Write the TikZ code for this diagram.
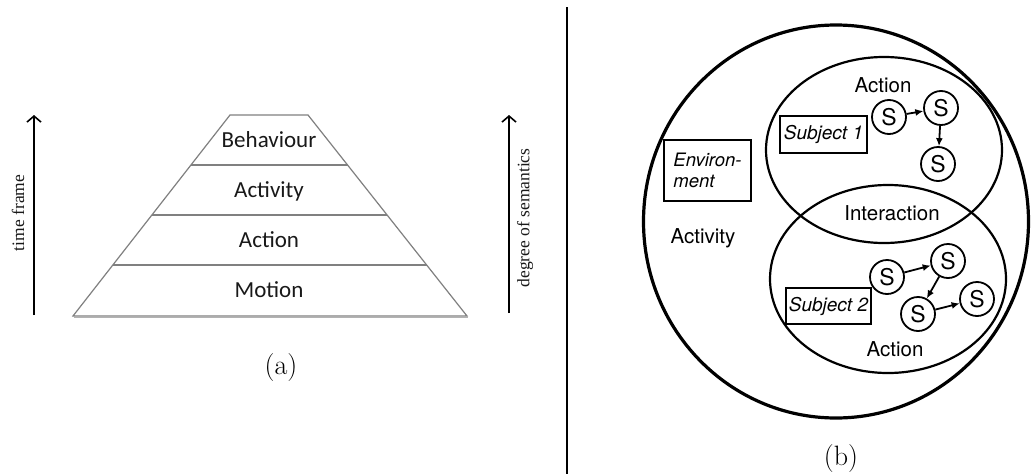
\documentclass[tikz,border=0pt]{standalone}
\usepackage{fontspec}
\newfontfamily\calfont{Carlito}
\newfontfamily\helvfont{TeX Gyre Heros}
\newfontfamily\timesfont{Liberation Serif}
\usetikzlibrary{arrows.meta}
\begin{document}
\begin{tikzpicture}[x=1pt,y=-1pt,
  pyr/.style={draw=black!50, line width=1.2pt},
  lvl/.style={font=\calfont\fontsize{23}{26}\selectfont, text=black!90, anchor=base, inner sep=0pt},
  axisarrow/.style={line width=1.6pt, -{Straight Barb[length=6pt,width=14pt,line width=1.6pt]}},
  axlbl/.style={font=\timesfont\fontsize{17.5}{20}\selectfont, text=black!90, rotate=90, inner sep=0pt},
  captxt/.style={font=\fontsize{28}{34}\selectfont, inner sep=0pt},
  outerring/.style={line width=3.2pt},
  ellring/.style={line width=2.2pt},
  lbl/.style={font=\helvfont\fontsize{20.5}{24}\selectfont, anchor=base, inner sep=0pt},
  subj/.style={draw, line width=1.8pt, font=\helvfont\itshape\fontsize{19}{22}\selectfont, inner sep=0pt},
  snode/.style={circle, draw, line width=1.8pt, minimum size=34pt, inner sep=0pt, font=\helvfont\fontsize{23}{26}\selectfont},
  sarr/.style={line width=1.8pt, -{Latex[length=8pt,width=7pt]}}
]
\useasboundingbox (0,0) rectangle (1031,474);
\fill[white] (0,0) rectangle (1031,474);

% ---------- (a) pyramid ----------
\draw[black!30, line width=1.6pt] (74,317.6) -- (468,317.6);
\draw[pyr, fill=white] (73,316) -- (467,316) -- (308,115) -- (230,115) -- cycle;
\draw[pyr] (190.9,165) -- (347.6,165);
\draw[pyr] (151.9,215) -- (387.1,215);
\draw[pyr] (112.8,265) -- (426.7,265);

\node[lvl] (beh) at (269,147.5) {Behaviour};
\node[lvl] (act) at (269,197.5) {Activity};
\node[lvl] (acn) at (269,247.5) {Action};
\node[lvl] (mot) at (269,297.5) {Motion};

\coordinate (tf0) at (34,315);
\coordinate (tf1) at (34,115);
\draw[axisarrow] (tf0) -- (tf1);
\node[axlbl] (tflbl) at (18,213) {time frame};

\coordinate (ds0) at (509,313);
\coordinate (ds1) at (509,115);
\draw[axisarrow] (ds0) -- (ds1);
\node[axlbl] (dslbl) at (525,218) {degree of semantics};

\node[captxt] (capa) at (281,368) {(a)};

% ---------- divider ----------
\coordinate (dv0) at (567,7);
\coordinate (dv1) at (567,474);
\draw[line width=1.3pt] (dv0) -- (dv1);

% ---------- (b) ----------
\draw[outerring] (836,221.5) ellipse [x radius=192.5pt, y radius=196.5pt];
\draw[ellring] (884,150) ellipse [x radius=118pt, y radius=93pt];
\draw[ellring] (888,279) ellipse [x radius=118pt, y radius=94pt];

\node[lbl] (act1) at (883,92) {Action};
\node[lbl] (inter) at (892,220) {Interaction};
\node[lbl] (actv) at (703,243) {Activity};
\node[lbl] (act2) at (895,356) {Action};

\node[subj, minimum width=87pt, minimum height=37pt] (sub1) at (823.5,134.5) {Subject 1};
\node[subj, minimum width=85pt, minimum height=36pt] (sub2) at (828.5,306) {Subject 2};
\node[subj, minimum width=87pt, minimum height=61pt, align=left, font=\helvfont\itshape\fontsize{18.5}{21}\selectfont] (env) at (707.5,170.5) {Environ-\\ment};

\node[snode] (s1) at (889,117) {S};
\node[snode] (s2) at (941,108) {S};
\node[snode] (s3) at (938,164) {S};
\draw[sarr] (s1) -- (s2);
\draw[sarr] (s2) -- (s3);

\node[snode] (s4) at (887,277) {S};
\node[snode] (s5) at (948,261) {S};
\node[snode] (s6) at (918,314) {S};
\node[snode] (s7) at (977,299) {S};
\draw[sarr] (s4) -- (s5);
\draw[sarr] (s5) -- (s6);
\draw[sarr] (s6) -- (s7);

\node[captxt] (capb) at (841,459) {(b)};
\end{tikzpicture}
\end{document}
